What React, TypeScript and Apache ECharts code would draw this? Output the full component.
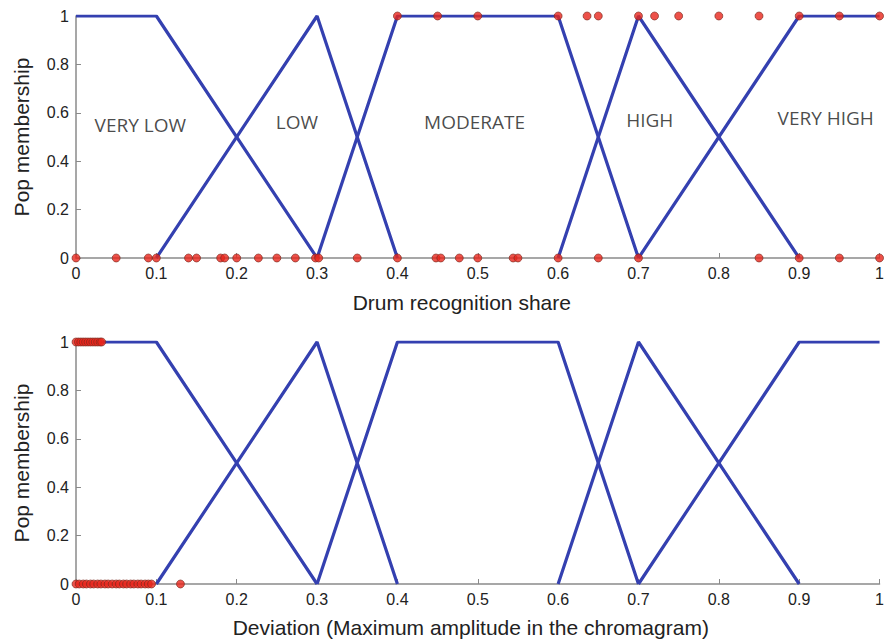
import React, { useEffect, useRef } from "react";
import * as echarts from "echarts";

// Membership functions (x, y)
const veryLow = [[0, 1], [0.1, 1], [0.3, 0]];
const low = [[0.1, 0], [0.3, 1], [0.4, 0]];
const moderate = [[0.3, 0], [0.4, 1], [0.6, 1], [0.7, 0]];
const high = [[0.6, 0], [0.7, 1], [0.9, 0]];
const veryHigh = [[0.7, 0], [0.9, 1], [1, 1]];

// Top chart observations
const topZeroX = [0, 0.05, 0.09, 0.1, 0.14, 0.15, 0.18, 0.185, 0.2, 0.227, 0.25, 0.273, 0.298, 0.302, 0.35, 0.4, 0.448, 0.454, 0.477, 0.5, 0.544, 0.55, 0.6, 0.65, 0.7, 0.85, 0.9, 0.95, 1];
const topOneX = [0.4, 0.45, 0.5, 0.6, 0.636, 0.65, 0.7, 0.72, 0.75, 0.8, 0.85, 0.9, 0.95, 1];

// Bottom chart observations
const bottomZeroX = [0, 0.004, 0.009, 0.013, 0.018, 0.022, 0.027, 0.031, 0.036, 0.04, 0.045, 0.05, 0.054, 0.059, 0.063, 0.068, 0.072, 0.077, 0.081, 0.086, 0.09, 0.094, 0.13];
const bottomOneX = [0, 0.003, 0.006, 0.009, 0.012, 0.015, 0.018, 0.021, 0.024, 0.027, 0.03, 0.032];

// Region labels
const labelNames = ["VERY LOW", "LOW", "MODERATE", "HIGH", "VERY HIGH"];
const labelX = [0.08, 0.275, 0.496, 0.714, 0.933];
const labelY = [0.55, 0.56, 0.56, 0.57, 0.58];

const xTitles = ["Drum recognition share", "Deviation (Maximum amplitude in the chromagram)"];
const yTitle = "Pop membership";

const BLUE = "#3440b0";
const AXIS = "#8a8a8a";
const TXT = "#222";
const FONT = "Liberation Sans, Arial, sans-serif";

export default function App() {
  const ref = useRef<HTMLDivElement>(null);
  useEffect(() => {
    if (!ref.current) return;
    const chart = echarts.init(ref.current, null, { renderer: "svg" });
    const grids = [
      { left: 76, right: 4, top: 16, height: 242 },
      { left: 76, right: 4, top: 342, height: 242 },
    ];
    const namePads = [[0, 32, 0, 0], [0, 14, 0, 0]];
    const xAxes = [0, 1].map((i) => ({
      type: "value",
      gridIndex: i,
      min: 0,
      max: 1,
      interval: 0.1,
      name: xTitles[i],
      nameLocation: "middle",
      nameGap: i === 0 ? 34 : 33,
      nameTextStyle: { fontSize: 21, color: TXT, fontFamily: FONT, padding: namePads[i] },
      axisLine: { show: true, lineStyle: { color: AXIS, width: 1.5 } },
      axisTick: { show: true, inside: true, length: 5, lineStyle: { color: AXIS } },
      axisLabel: { fontSize: 16, color: TXT, fontFamily: FONT, margin: 7 },
      splitLine: { show: false },
    }));
    const yAxes = [0, 1].map((i) => ({
      type: "value",
      gridIndex: i,
      min: 0,
      max: 1,
      interval: 0.2,
      name: yTitle,
      nameLocation: "middle",
      nameGap: 44,
      nameTextStyle: { fontSize: 21, color: TXT, fontFamily: FONT },
      axisLine: { show: true, lineStyle: { color: AXIS, width: 1.5 } },
      axisTick: { show: true, inside: true, length: 5, lineStyle: { color: AXIS } },
      axisLabel: { fontSize: 16, color: TXT, fontFamily: FONT, margin: 7 },
      splitLine: { show: false },
    }));
    const mfs = [veryLow, low, moderate, high, veryHigh];
    const series: any[] = [];
    [0, 1].forEach((g) => {
      mfs.forEach((d) => {
        series.push({
          type: "line",
          xAxisIndex: g,
          yAxisIndex: g,
          data: d,
          showSymbol: false,
          symbol: "none",
          lineStyle: { color: BLUE, width: 3.2 },
          z: 2,
        });
      });
    });
    const dot = (xs: number[], y: number, g: number) => ({
      type: "scatter",
      xAxisIndex: g,
      yAxisIndex: g,
      data: xs.map((x) => [x, y]),
      symbolSize: 8,
      itemStyle: { color: "#e8261c", borderColor: "#7a2a20", borderWidth: 0.8 },
      z: 3,
    });
    series.push(dot(topZeroX, 0, 0));
    series.push(dot(topOneX, 1, 0));
    series.push(dot(bottomZeroX, 0, 1));
    series.push(dot(bottomOneX, 1, 1));
    series.push({
      type: "scatter",
      xAxisIndex: 0,
      yAxisIndex: 0,
      symbolSize: 0,
      data: labelNames.map((n, i) => ({ value: [labelX[i], labelY[i]], name: n })),
      label: {
        show: true,
        position: "inside",
        formatter: (p: any) => p.name,
        fontSize: 19,
        color: "#1a1a1a",
        fontFamily: "Open Sans, sans-serif",
      },
      z: 4,
    });
    chart.setOption({
      animation: false,
      backgroundColor: "#fff",
      grid: grids,
      xAxis: xAxes,
      yAxis: yAxes,
      series,
    });
    return () => chart.dispose();
  }, []);
  return (
    <div
      ref={ref}
      style={{ position: "fixed", left: 0, top: 0, width: 887, height: 641 }}
    />
  );
}
